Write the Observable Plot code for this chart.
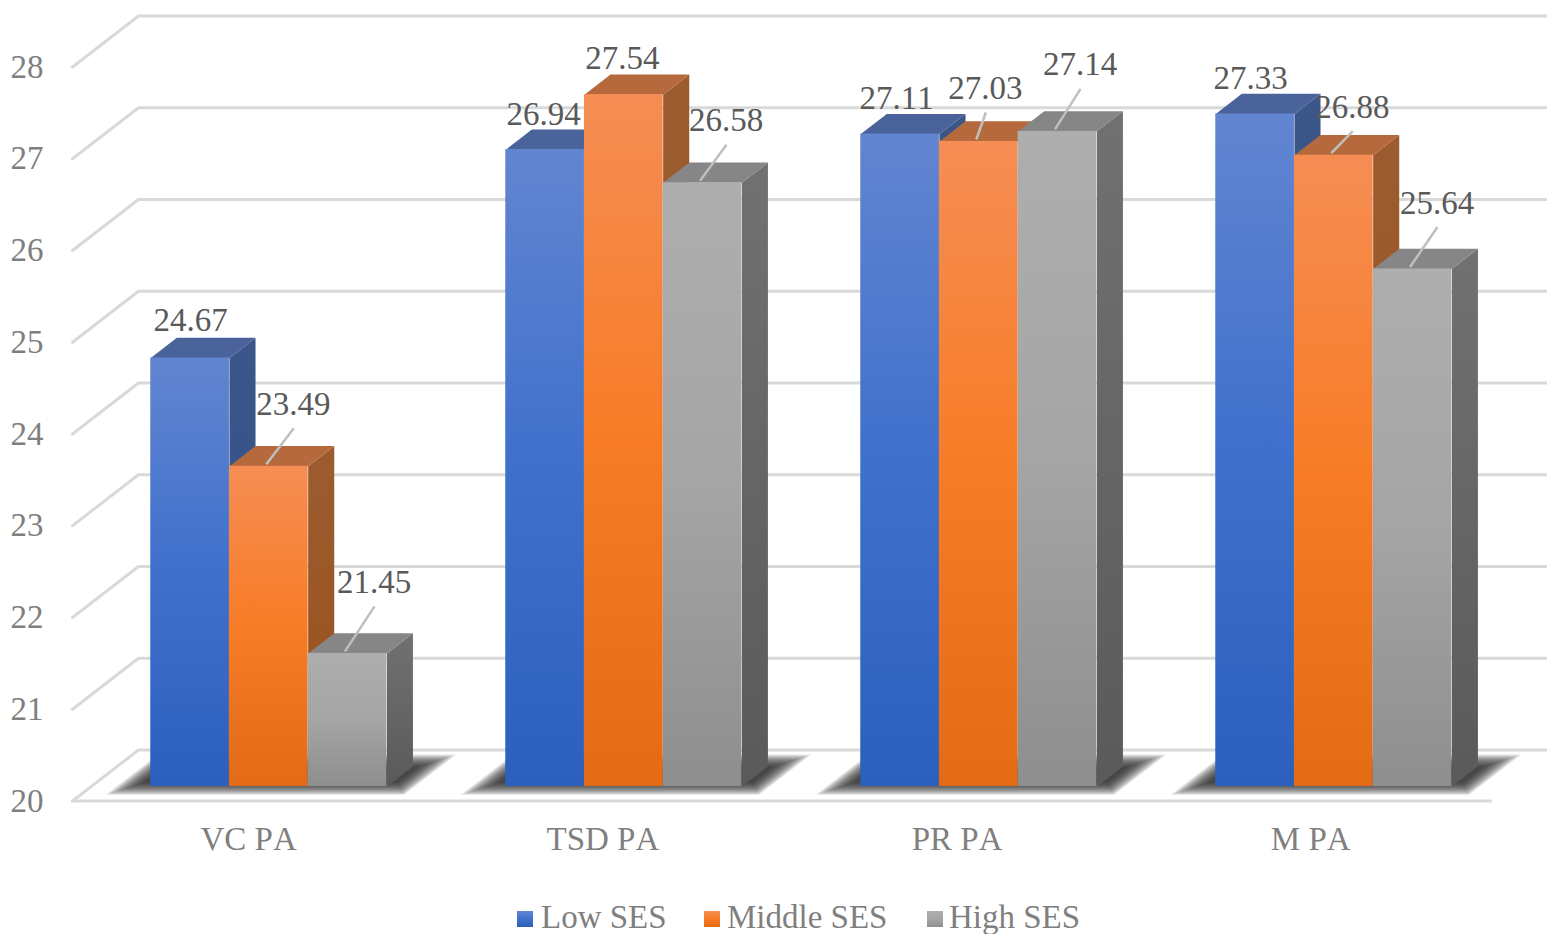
<!DOCTYPE html>
<html>
<head>
<meta charset="utf-8">
<script src="https://cdn.jsdelivr.net/npm/d3@7"></script>
<script src="https://cdn.jsdelivr.net/npm/@observablehq/plot@0.6"></script>
<style>
  html, body { margin: 0; background: #fff; overflow: hidden; font-kerning: none; }
  svg text { font-kerning: none; }
  #legend { position: relative; height: 54px; font: 33px "Liberation Serif", serif; color: #7f7f7f; }
  #legend span { position: absolute; white-space: nowrap; }
  #legend .swatch { width: 16px; height: 16px; top: 31px; }
  #legend .name { top: 18px; line-height: 38px; }
</style>
</head>
<body>
<div id="chart"></div>
<div id="legend"></div>
<script>
// Pretest / awareness scores by socio-economic status
const categories = ["VC PA", "TSD PA", "PR PA", "M PA"];
const seriesNames = ["Low SES", "Middle SES", "High SES"];
const lowSES = [24.67, 26.94, 27.11, 27.33];
const middleSES = [23.49, 27.54, 27.03, 26.88];
const highSES = [21.45, 26.58, 27.14, 25.64];
const yTicks = [20, 21, 22, 23, 24, 25, 26, 27, 28];

// Category label positions along the floor's front edge
const categoryTicks = [0.496, 1.494, 2.492, 3.488];

// Value label placement, in pixels from the top centre of each bar
const labelDx = [[0.5, -1.5, -3.5, -4.5], [24.5, -1.5, 6.5, 18.5], [26.5, 23.5, 22.5, 24.5]];
const labelDy = [[-38, -35, -36, -36], [-62, -36, -53, -48], [-71, -62, -66.5, -66]];

// Colour ramps: front face, side face, top face
const frontStops = [["#6285d0", "#3f70cc", "#2c60bc"], ["#f58d54", "#f87c26", "#e46a16"], ["#aeaeae", "#a5a5a5", "#8e8e8e"]];
const sideStops = [["#3b5688", "#2d5190"], ["#9c5c30", "#99501a"], ["#717171", "#5a5a5a"]];
const topFill = ["#4a639a", "#b5693d", "#868686"];

const values = [lowSES, middleSES, highSES];
const pxPerCat = 355, pxPerUnit = 91.75;
const px = (p) => p / pxPerCat;
const pu = (p) => p / pxPerUnit;

// Oblique projection: depth 0 is the front of the floor, depth 1 the back wall
const wallX = px(66), wallY = pu(51);
const at = (x, v, d) => ({x: x + d * wallX, y: v + d * wallY});
const barNear = 0.285, barFar = 0.68;
const barW = px(78.7);

const barLeft = (c, s) => c + 0.5 + (s - 1.5) * barW;

// Quadrilateral faces are closed paths tagged with an id
function quad(id, corners) {
  return [...corners, corners[0]].map((p) => ({...p, id}));
}

const gridRows = yTicks.flatMap((v) => {
  const rows = [at(0, v, 0), at(0, v, 1), at(4.1, v, 1)];
  return rows.map((r) => ({...r, v}));
});

const floorFront = [at(0, 20, 0), at(1418 / 355, 20, 0)];

// The floor shadow is a stack of translucent outlines that shrink inward,
// which leaves it with a soft edge
const shadowSpread = [12, 10, 8, 6, 4, 2, 0, -2, -4, -6, -8, -10];
const shadowRows = categories.flatMap((_, c) => shadowSpread.flatMap((e) => {
  const l = barLeft(c, 0) - px(22 + e), r = barLeft(c, 3) + px(16 + e);
  const near = 0.25 - e / 51 * 0.55, far = 0.78 + e / 51 * 0.55;
  return quad(`${c}:${e}`, [at(l, 20, near), at(l, 20, far), at(r, 20, far), at(r, 20, near)]);
}));

function barMarks(s) {
  const rows = categories.map((category, c) => ({category, c, v: values[s][c], l: barLeft(c, s), r: barLeft(c, s) + barW}));
  const side = rows.flatMap((d) => quad(`${d.c}`, [at(d.r, 20, barNear), at(d.r, 20, barFar), at(d.r, d.v, barFar), at(d.r, d.v, barNear)]));
  const top = rows.flatMap((d) => quad(`${d.c}`, [at(d.l, d.v, barNear), at(d.l, d.v, barFar), at(d.r, d.v, barFar), at(d.r, d.v, barNear)]));
  return [
    Plot.line(side, {x: "x", y: "y", z: "id", fill: `url(#side${s})`, stroke: "none", curve: "linear"}),
    Plot.line(top, {x: "x", y: "y", z: "id", fill: topFill[s], stroke: "none", curve: "linear"}),
    Plot.rect(rows, {
      x1: (d) => at(d.l, d.v, barNear).x,
      x2: (d) => at(d.r, d.v, barNear).x,
      y1: () => at(0, 20, barNear).y,
      y2: (d) => at(0, d.v, barNear).y,
      fill: `url(#front${s})`,
      inset: 0
    })
  ];
}

const labelRows = values.flatMap((vals, s) => vals.map((v, c) => {
  const cx = barLeft(c, s) + barW / 2;
  const top = at(cx, v, barNear);
  const dx = labelDx[s][c], dy = labelDy[s][c];
  return {
    text: v.toFixed(2),
    x: top.x + px(dx), y: top.y - pu(dy),
    leader: dy < -40,
    x1: top.x + px(dx + 0.5), y1: top.y - pu(dy + 24),
    x2: top.x - px(2.5), y2: top.y + pu(2)
  };
}));

function gradientDefs() {
  const defs = d3.create("svg:defs");
  const ramp = (id, stops) => {
    const g = defs.append("linearGradient").attr("id", id).attr("x1", 0).attr("x2", 0).attr("y1", 0).attr("y2", 1);
    stops.forEach((c, i) => g.append("stop").attr("offset", i / (stops.length - 1)).attr("stop-color", c));
  };
  frontStops.forEach((stops, s) => ramp(`front${s}`, stops));
  sideStops.forEach((stops, s) => ramp(`side${s}`, stops));
  return defs.node();
}

const chart = Plot.plot({
  width: 1547,
  height: 880,
  marginLeft: 72,
  marginRight: 55,
  marginTop: 66.5,
  marginBottom: 79.5,
  style: {background: "#fff", overflow: "hidden"},
  x: {type: "linear", domain: [0, 4]},
  y: {type: "linear", domain: [20, 28]},
  marks: [
    gradientDefs,
    Plot.line(gridRows, {x: "x", y: "y", z: "v", stroke: "#d9d9d9", strokeWidth: 3, strokeLinejoin: "miter", curve: "linear"}),
    Plot.line(floorFront, {x: "x", y: "y", stroke: "#d9d9d9", strokeWidth: 3, curve: "linear"}),
    Plot.line(shadowRows, {x: "x", y: "y", z: "id", fill: "#1c1c1c", fillOpacity: 0.13, stroke: "none", curve: "linear"}),
    barMarks(0),
    barMarks(1),
    barMarks(2),
    Plot.link(labelRows.filter((d) => d.leader), {x1: "x1", y1: "y1", x2: "x2", y2: "y2", stroke: "#bfbfbf", strokeWidth: 2.5}),
    Plot.text(labelRows, {x: "x", y: "y", text: "text", fontSize: 33, fontFamily: "Liberation Serif", fill: "#595959"}),
    Plot.axisY(yTicks, {
      anchor: "left", tickSize: 0, tickPadding: 29, label: null, fontSize: 33,
      fontFamily: "Liberation Serif", color: "#7f7f7f", tickFormat: (d) => `${d}`
    }),
    Plot.axisX(categoryTicks, {
      anchor: "bottom", tickSize: 0, tickPadding: 26, label: null, fontSize: 33,
      fontFamily: "Liberation Serif", color: "#7f7f7f",
      tickFormat: (d) => categories[Math.floor(d)]
    })
  ]
});
document.getElementById("chart").appendChild(chart);

// Legend below the plot
const legendLeft = [[517, 541], [704, 727], [927, 949]];
const legend = d3.select("#legend");
seriesNames.forEach((name, s) => {
  legend.append("span").attr("class", "swatch")
    .style("left", `${legendLeft[s][0]}px`)
    .style("background", `linear-gradient(${frontStops[s].join(",")})`);
  legend.append("span").attr("class", "name")
    .style("left", `${legendLeft[s][1]}px`)
    .text(name);
});
</script>
</body>
</html>
